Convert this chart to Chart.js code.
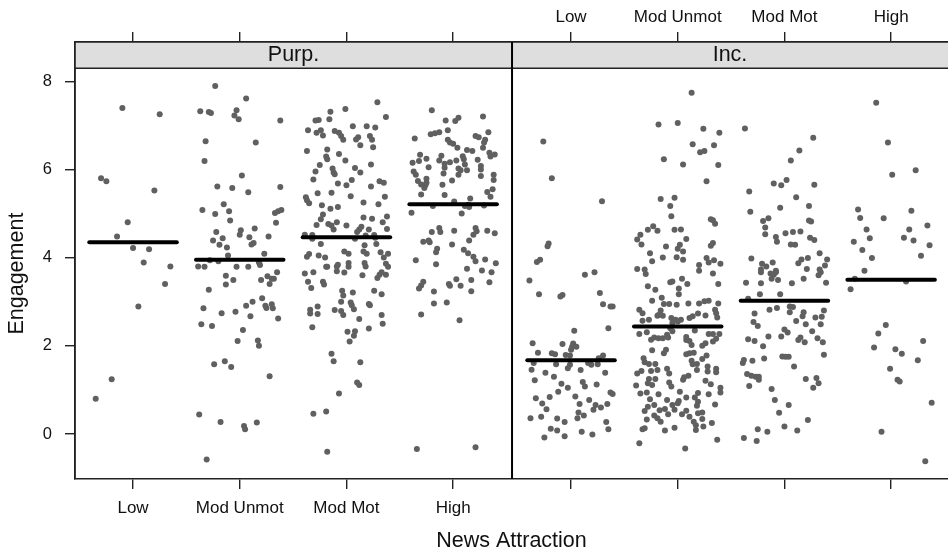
<!DOCTYPE html>
<html><head><meta charset="utf-8">
<style>html,body{margin:0;padding:0;background:#fff}canvas{display:block}</style>
<script src="https://cdn.jsdelivr.net/npm/chart.js@4"></script>
</head><body><canvas id="c" width="948" height="552"></canvas>
<script>
const categories=["Low","Mod Unmot","Mod Mot","High"];
const panels=["Purp.","Inc."];
const yTicks=[0,2,4,6,8];
const yLabel="Engagement";
const means=[4.35,3.95,4.46,5.21,1.67,2.44,3.02,3.50];
// each pair: [horizontal jitter within the category, Engagement value]
const purpLow=[[-.10,7.39],[.25,7.25],[-.30,5.80],[-.25,5.73],[.20,5.52],[-.05,4.80],[-.15,4.48],[0,4.22],[.15,4.19],[.10,3.89],[.35,3.80],[.30,3.40],[.05,2.89],[-.20,1.24],[-.35,.80]];
const purpUnmot=[[-.23,7.89],[.06,7.61],[-.37,7.32],[-.29,7.30],[-.27,7.28],[-.03,7.34],[-.05,7.22],[-.01,7.14],[.38,7.11],[-.32,6.64],[.15,6.61],[-.33,6.19],[.02,5.86],[-.21,5.61],[-.07,5.58],[.08,5.48],[.38,5.60],[-.15,5.21],[-.35,5.08],[-.23,4.99],[-.10,5.05],[.33,5.01],[.36,5.05],[.39,5.08],[-.09,4.84],[.34,4.79],[-.22,4.58],[.01,4.62],[.14,4.66],[0,4.52],[-.16,4.44],[.09,4.46],[.27,4.48],[-.25,4.39],[-.19,4.29],[-.12,4.23],[.13,4.33],[.11,4.30],[-.11,4.05],[.23,4.09],[-.28,3.94],[-.20,3.92],[.18,3.89],[.19,3.83],[-.39,3.80],[-.33,3.79],[-.03,3.79],[.08,3.79],[.35,3.67],[-.13,3.59],[.26,3.58],[.20,3.49],[-.06,3.49],[.30,3.52],[.32,3.52],[-.13,3.39],[.28,3.40],[-.29,3.27],[.21,3.08],[.12,3.00],[.06,2.91],[.30,2.94],[.24,2.91],[.25,2.86],[.31,2.85],[-.34,2.85],[-.17,2.74],[-.04,2.77],[.10,2.67],[.36,2.62],[-.36,2.49],[-.26,2.45],[.03,2.36],[-.02,2.11],[.17,2.12],[.18,2.00],[-.24,1.58],[-.14,1.65],[-.08,1.52],[.28,1.31],[-.38,.44],[-.18,.27],[.04,.18],[.05,.11],[.16,.26],[-.31,-.58]];
const purpMot=[[.29,7.52],[-.01,7.37],[-.15,7.31],[.37,7.19],[-.16,7.14],[-.29,7.11],[-.26,7.12],[-.36,6.89],[-.24,6.89],[-.28,6.83],[-.22,6.77],[.06,6.98],[.19,6.98],[.27,6.95],[-.11,6.87],[-.07,6.83],[-.05,6.76],[-.03,6.67],[.11,6.73],[.09,6.68],[.22,6.76],[.24,6.67],[.13,6.55],[.25,6.50],[-.37,6.42],[-.18,6.45],[-.07,6.35],[-.19,6.29],[-.18,6.23],[-.01,6.20],[-.25,6.10],[.23,6.11],[.08,6.03],[-.13,6.02],[.13,5.93],[-.29,5.95],[-.12,5.93],[-.11,5.89],[-.31,5.77],[.05,5.76],[-.08,5.68],[0,5.64],[.31,5.73],[.35,5.70],[.23,5.61],[-.27,5.46],[-.14,5.47],[.04,5.39],[-.38,5.37],[-.37,5.30],[-.35,5.23],[.36,5.38],[.16,5.25],[.30,5.21],[-.23,5.19],[-.15,5.11],[-.08,5.15],[-.22,4.98],[-.24,4.87],[.16,4.91],[.24,4.88],[.38,4.93],[-.28,4.74],[-.17,4.76],[-.14,4.73],[-.09,4.80],[-.12,4.64],[0,4.73],[.34,4.80],[.14,4.70],[.21,4.64],[.38,4.65],[.12,4.64],[.10,4.58],[-.39,4.52],[-.32,4.51],[-.32,4.43],[.08,4.43],[.18,4.50],[.26,4.51],[.27,4.45],[-.24,4.31],[.17,4.28],[.28,4.31],[-.35,4.08],[-.37,4.02],[-.26,4.05],[-.20,4.00],[-.02,4.14],[.02,4.09],[.16,4.14],[.19,4.09],[.32,4.12],[.39,4.09],[.35,4.00],[-.19,3.79],[-.18,3.79],[-.09,3.80],[-.08,3.84],[.02,3.88],[.02,3.79],[.17,3.88],[.18,3.80],[.37,3.86],[.39,3.79],[-.39,3.64],[-.31,3.67],[-.09,3.69],[-.02,3.66],[.15,3.60],[-.36,3.45],[-.33,3.31],[-.22,3.45],[-.21,3.39],[.29,3.54],[.31,3.61],[.33,3.67],[.37,3.61],[-.04,3.25],[-.03,3.14],[.06,3.21],[.26,3.25],[.33,3.17],[-.05,3.00],[.04,2.98],[.05,2.92],[.07,2.83],[.21,2.95],[.22,2.92],[-.27,2.89],[-.34,2.82],[-.34,2.73],[-.27,2.72],[-.11,2.81],[-.05,2.79],[-.03,2.70],[.12,2.61],[.33,2.70],[.34,2.50],[-.32,2.42],[.21,2.39],[.01,2.32],[.08,2.33],[.07,2.23],[.03,2.10],[-.14,1.82],[-.12,1.65],[.13,1.63],[.10,1.17],[.12,1.11],[-.07,.92],[-.31,.46],[-.19,.51],[-.18,-.40]];
const purpHigh=[[-.20,7.34],[.28,7.20],[.05,7.17],[.02,7.10],[-.07,7.11],[-.05,6.89],[-.21,6.80],[-.17,6.82],[-.13,6.84],[.33,6.84],[-.36,6.70],[.21,6.76],[.24,6.73],[.30,6.67],[-.05,6.67],[-.03,6.61],[0,6.58],[.29,6.61],[.04,6.49],[.28,6.49],[.13,6.44],[.18,6.42],[-.31,6.33],[-.11,6.31],[-.25,6.24],[-.32,6.19],[-.13,6.20],[-.38,6.15],[.09,6.30],[.10,6.23],[.34,6.38],[.39,6.34],[.35,6.29],[.23,6.22],[-.03,6.16],[-.08,6.13],[.03,6.20],[.11,6.11],[.26,6.08],[.26,6.00],[-.23,6.05],[-.08,6.04],[.05,6.02],[.07,5.98],[.13,5.98],[-.37,5.95],[-.35,5.88],[-.09,5.91],[.05,5.88],[.26,5.85],[.38,5.88],[.38,5.76],[-.33,5.74],[-.25,5.79],[-.01,5.75],[-.30,5.66],[-.25,5.70],[-.26,5.64],[-.27,5.58],[-.10,5.65],[.37,5.55],[.32,5.49],[-.30,5.43],[-.08,5.42],[.35,5.38],[.16,5.34],[.01,5.27],[-.19,5.17],[.11,5.17],[.15,5.15],[.14,5.20],[.29,5.18],[-.39,5.02],[.08,5.00],[-.13,4.67],[-.20,4.58],[-.12,4.58],[.01,4.61],[.21,4.67],[.22,4.60],[.19,4.52],[.32,4.61],[.39,4.55],[.15,4.39],[-.28,4.36],[-.22,4.35],[-.23,4.39],[-.01,4.30],[-.15,4.20],[-.16,4.12],[.10,4.18],[.14,4.10],[.19,4.02],[.21,3.92],[-.35,3.94],[.30,3.96],[-.16,3.85],[.40,3.87],[.13,3.75],[.27,3.71],[.36,3.67],[.03,3.51],[.17,3.49],[-.28,3.45],[-.30,3.37],[-.32,3.30],[-.04,3.40],[-.03,3.36],[.07,3.36],[.34,3.44],[-.18,3.23],[.17,3.24],[-.18,2.96],[-.06,2.98],[-.30,2.71],[.06,2.58],[-.34,-.34],[.21,-.30]];
const incLow=[[-.26,6.63],[-.18,5.80],[.29,5.28],[-.21,4.32],[-.22,4.26],[-.29,3.95],[-.32,3.90],[.22,3.67],[.13,3.61],[-.39,3.48],[-.30,3.17],[-.10,3.12],[-.08,3.15],[.27,3.20],[.30,2.94],[.37,2.89],[.39,2.89],[.35,2.40],[.03,2.34],[-.36,2.06],[-.08,2.04],[.02,2.05],[.01,1.98],[.05,1.98],[0,1.91],[-.31,1.84],[-.18,1.83],[-.15,1.81],[-.05,1.79],[-.01,1.78],[.30,1.78],[.26,1.72],[-.35,1.61],[-.14,1.58],[.16,1.61],[.19,1.57],[.25,1.58],[-.01,1.57],[-.03,1.49],[-.37,1.46],[-.24,1.39],[.09,1.45],[.32,1.39],[-.16,1.30],[-.34,1.22],[-.09,1.14],[-.03,1.05],[.11,1.18],[.13,1.08],[.24,1.12],[-.12,.96],[.37,.94],[.39,.91],[.04,.85],[-.33,.81],[-.20,.84],[.17,.77],[-.27,.69],[.08,.68],[.23,.66],[.34,.68],[.28,.60],[-.23,.56],[.21,.55],[.07,.49],[.12,.42],[.06,.36],[-.38,.36],[-.28,.39],[-.13,.35],[-.06,.27],[.33,.27],[.35,.11],[-.19,.12],[-.13,.08],[.10,.05],[.20,-.01],[-.06,-.05],[-.25,-.08]];
const incUnmot=[[.13,7.74],[-.18,7.02],[0,7.05],[.24,6.92],[.39,6.83],[.14,6.57],[.34,6.55],[.21,6.39],[.25,6.42],[-.13,6.23],[.05,6.11],[.38,6.10],[.27,5.73],[-.16,5.33],[-.03,5.36],[-.07,5.17],[-.06,4.94],[.31,4.87],[.33,4.85],[.35,4.77],[-.23,4.71],[-.28,4.63],[-.19,4.61],[-.03,4.63],[.03,4.64],[-.35,4.52],[-.38,4.41],[-.34,4.30],[.08,4.42],[.33,4.33],[.31,4.27],[-.11,4.25],[.02,4.29],[0,4.20],[.05,4.14],[-.26,4.10],[-.14,4.00],[-.24,3.92],[-.01,4.01],[.05,3.95],[.27,3.99],[.29,3.89],[.34,3.94],[.40,3.86],[.20,3.83],[-.38,3.74],[-.31,3.73],[-.30,3.63],[.20,3.70],[.33,3.64],[-.05,3.46],[-.07,3.44],[.04,3.52],[.09,3.40],[.38,3.40],[-.28,3.35],[-.21,3.27],[.01,3.30],[.01,3.17],[-.15,3.09],[-.24,3.02],[-.13,2.95],[-.08,2.95],[-.01,2.93],[.10,2.96],[.20,2.96],[.25,3.01],[.29,3.02],[.38,2.96],[-.36,2.82],[-.33,2.74],[-.16,2.80],[-.18,2.70],[-.19,2.68],[.35,2.82],[.36,2.74],[.37,2.64],[.19,2.73],[.26,2.69],[.14,2.67],[.11,2.63],[-.33,2.57],[-.27,2.59],[-.14,2.68],[-.06,2.63],[-.02,2.59],[.03,2.59],[-.05,2.52],[0,2.55],[-.36,2.27],[-.29,2.31],[-.07,2.40],[-.10,2.25],[-.05,2.33],[.16,2.35],[.29,2.27],[.33,2.27],[.39,2.27],[-.25,2.14],[-.22,2.19],[-.18,2.17],[-.14,2.17],[-.09,2.19],[.08,2.20],[.08,2.13],[.11,2.11],[.33,2.10],[.36,2.16],[.13,2.02],[.26,2.06],[.23,2.00],[-.24,1.90],[-.11,1.91],[-.13,1.83],[.08,1.81],[.11,1.83],[.15,1.84],[.27,1.78],[.23,1.70],[-.32,1.72],[-.31,1.63],[-.27,1.59],[-.21,1.59],[.13,1.66],[.14,1.58],[.18,1.59],[-.19,1.45],[-.25,1.43],[-.10,1.48],[.18,1.45],[.28,1.53],[.28,1.42],[.36,1.48],[.36,1.40],[-.08,1.37],[-.34,1.43],[-.38,1.37],[.10,1.32],[.06,1.29],[.05,1.23],[-.21,1.25],[-.27,1.25],[-.28,1.15],[-.39,1.10],[-.24,1.11],[-.08,1.17],[-.06,1.08],[.26,1.21],[.31,1.13],[.40,1.05],[.40,.94],[-.35,.92],[-.29,.94],[-.18,.90],[.02,.96],[.19,.93],[.29,.90],[-.26,.79],[-.10,.77],[.08,.83],[.16,.83],[.19,.73],[.01,.75],[0,.70],[-.22,.66],[-.28,.62],[-.05,.66],[.35,.67],[.18,.64],[-.31,.52],[-.17,.54],[-.12,.57],[-.03,.55],[.08,.53],[.19,.47],[-.09,.45],[.04,.45],[-.22,.42],[-.19,.36],[-.16,.28],[-.29,.33],[.11,.39],[.15,.28],[.23,.49],[.23,.34],[.17,.20],[.24,.17],[.32,.25],[-.33,.11],[-.31,.13],[-.12,.08],[-.03,.14],[.17,.09],[.37,-.13],[-.36,-.21],[.07,-.33]];
const incMot=[[-.37,6.93],[.27,6.72],[.14,6.43],[.06,6.20],[.02,5.76],[-.10,5.68],[-.03,5.64],[.28,5.65],[-.33,5.50],[.11,5.37],[.23,5.17],[-.04,5.13],[-.32,5.04],[-.15,4.89],[-.20,4.83],[.23,4.84],[.25,4.82],[-.18,4.68],[-.18,4.53],[.01,4.55],[.08,4.58],[.15,4.59],[-.08,4.47],[-.07,4.36],[.24,4.45],[.28,4.40],[.06,4.30],[.10,4.29],[.33,4.10],[-.31,3.98],[.22,3.99],[.16,3.96],[.40,3.96],[.13,3.87],[-.11,3.89],[-.21,3.86],[-.17,3.80],[.38,3.82],[.21,3.74],[.33,3.73],[-.08,3.70],[-.22,3.73],[-.22,3.67],[-.08,3.67],[-.13,3.64],[-.10,3.61],[.34,3.67],[.32,3.60],[-.36,3.43],[-.22,3.42],[-.12,3.52],[-.06,3.49],[.07,3.42],[.18,3.52],[.39,3.43],[-.23,3.17],[-.04,3.17],[-.34,3.07],[-.14,2.82],[-.07,2.86],[.05,2.89],[.08,2.88],[.05,2.76],[.37,2.80],[-.28,2.73],[.18,2.76],[.17,2.67],[.29,2.64],[.35,2.66],[.11,2.56],[-.29,2.54],[-.25,2.45],[.20,2.49],[.34,2.49],[0,2.37],[.03,2.30],[.26,2.33],[-.34,2.15],[-.28,2.11],[-.15,2.21],[-.03,2.21],[.15,2.19],[.13,2.13],[.19,2.08],[.31,2.17],[.36,2.08],[-.20,1.99],[.37,1.80],[-.02,1.76],[.01,1.75],[.04,1.75],[-.19,1.71],[-.38,1.68],[-.39,1.61],[-.30,1.66],[.09,1.53],[-.35,1.36],[-.31,1.32],[-.27,1.30],[-.24,1.30],[-.24,1.23],[.20,1.25],[.30,1.27],[.32,1.15],[-.33,1.09],[.27,1.05],[-.12,1.02],[-.09,.77],[.04,.66],[-.05,.48],[.22,.32],[-.25,.11],[0,.17],[-.16,.05],[.12,.08],[-.38,-.09],[-.26,-.16]];
const incHigh=[[-.14,7.51],[-.03,6.61],[.23,5.98],[.01,5.88],[-.31,5.09],[.19,5.06],[-.29,4.90],[-.07,4.89],[.34,4.73],[-.23,4.64],[.17,4.64],[-.20,4.44],[.12,4.45],[.21,4.39],[-.35,4.36],[.36,4.28],[-.27,4.17],[-.18,3.99],[.28,4.04],[-.25,3.70],[-.34,3.52],[.14,3.46],[-.38,3.28],[-.05,2.47],[-.12,2.28],[.30,2.11],[-.16,1.96],[.04,1.92],[.10,1.82],[.25,1.67],[-.01,1.48],[.06,1.23],[.08,1.19],[.38,.71],[-.09,.05],[.32,-.62]];
const groups=[purpLow,purpUnmot,purpMot,purpHigh,incLow,incUnmot,incMot,incHigh];

const panelShift=4.105, xMin=.456, xMax=8.638, yMin=-1.02, yMax=8.889, stripBase=8.295, panelEdge=4.552, meanHalf=.41;
const INK="#222", DOT="#606060", FONT="'Liberation Sans', Arial, sans-serif";
const slot=i=>i<4?i+1:i-4+1+panelShift;
const slots=[...Array(8).keys()].map(slot);

const datasets=[];
groups.forEach((g,i)=>datasets.push({type:"scatter",order:2,data:g.map(p=>({x:slot(i)+p[0],y:p[1]})),
  pointRadius:3,pointHoverRadius:3,pointBackgroundColor:DOT,pointBorderWidth:0,showLine:false}));
means.forEach((m,i)=>datasets.push({type:"line",order:1,data:[{x:slot(i)-meanHalf,y:m},{x:slot(i)+meanHalf,y:m}],
  borderColor:"#000",borderWidth:4,borderCapStyle:"round",pointRadius:0,fill:false,tension:0}));

const panelFrame={id:"panelFrame",
  afterDatasetsDraw(ch){
    const {ctx,scales:{x,y},chartArea:a}=ch;
    const base=y.getPixelForValue(stripBase), edge=x.getPixelForValue(panelEdge);
    ctx.save();
    ctx.fillStyle="#dedede";ctx.fillRect(a.left,a.top,a.right-a.left,base-a.top);
    ctx.strokeStyle=INK;ctx.lineWidth=1.6;
    ctx.beginPath();
    ctx.moveTo(a.left,a.top);ctx.lineTo(a.right,a.top);
    ctx.moveTo(a.left,base);ctx.lineTo(a.right,base);
    ctx.moveTo(a.left,a.top);ctx.lineTo(a.left,a.bottom);
    ctx.stroke();
    ctx.strokeStyle="#000";ctx.lineWidth=2;
    ctx.beginPath();ctx.moveTo(edge,a.top);ctx.lineTo(edge,a.bottom);ctx.stroke();
    ctx.fillStyle="#111";ctx.font="21.5px "+FONT;ctx.textAlign="center";ctx.textBaseline="middle";
    ctx.fillText(panels[0],(a.left+edge)/2,(a.top+base)/2);
    ctx.fillText(panels[1],(edge+a.right)/2,(a.top+base)/2);
    ctx.translate(17,(base+a.bottom)/2);ctx.rotate(-Math.PI/2);
    ctx.fillText(yLabel,0,0);
    ctx.restore();
  }};

const setSlots=s=>{s.ticks=slots.map(v=>({value:v}));};
const noMargins=s=>{s.paddingLeft=0;s.paddingRight=0;s.paddingTop=0;s.paddingBottom=0;};
const xCommon={type:"linear",min:xMin,max:xMax,afterBuildTicks:setSlots,
  grid:{drawOnChartArea:false,drawTicks:true,tickLength:10,color:INK,lineWidth:1.4},
  border:{color:INK,width:1.4}};
new Chart(document.getElementById("c"),{
  data:{datasets},
  plugins:[panelFrame],
  options:{responsive:false,animation:false,devicePixelRatio:1,
    layout:{padding:0,autoPadding:false},
    plugins:{legend:{display:false},title:{display:false},tooltip:{enabled:false}},
    scales:{
      x:{...xCommon,position:"bottom",afterFit:s=>{noMargins(s);s.height=73;},
        ticks:{autoSkip:false,maxRotation:0,padding:9.5,color:"#111",font:{size:17,family:FONT},
          callback:(v,i)=>i<4?categories[i]:""},
        title:{display:true,text:"News Attraction",color:"#111",font:{size:21.5,family:FONT,lineHeight:1},padding:{top:0,bottom:0}}},
      x2:{...xCommon,axis:"x",position:"top",afterFit:s=>{noMargins(s);s.height=42;},
        ticks:{autoSkip:false,maxRotation:0,padding:4.5,color:"#111",font:{size:17,family:FONT},
          callback:(v,i)=>i>=4?categories[i-4]:""}},
      y:{type:"linear",position:"left",min:yMin,max:yMax,afterFit:s=>{noMargins(s);s.width=75;},
        afterBuildTicks:s=>{s.ticks=yTicks.map(v=>({value:v}));},
        grid:{drawOnChartArea:false,tickLength:10,color:INK,lineWidth:1.4},
        border:{color:INK,width:1.4},
        ticks:{padding:13,color:"#111",font:{size:16.5,family:FONT}}}
    }
  }
});
</script></body></html>
